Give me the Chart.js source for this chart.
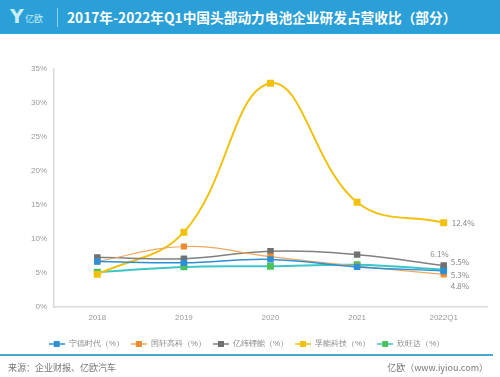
<!DOCTYPE html>
<html>
<head>
<meta charset="utf-8">
<script src="https://cdn.jsdelivr.net/npm/chart.js@4.4.0/dist/chart.umd.min.js"></script>
<style>
  body { margin: 0; width: 500px; height: 377px; background: #fff; position: relative; overflow: hidden; font-family: "Noto Sans CJK SC", sans-serif; }
  #header { position: absolute; left: 0; top: 0; width: 500px; height: 34px; background: #2a9fd8; }
  #logo { position: absolute; left: 10px; top: 5px; color: #c9eef7; font: bold 19px "DejaVu Sans", sans-serif; }
  #logo-text { position: absolute; left: 25px; top: 12px; color: #c9eef7; font-size: 9px; }
  #sep { position: absolute; left: 57px; top: 8px; width: 1px; height: 19px; background: #8fd0ee; }
  #title { position: absolute; left: 67px; top: 7px; color: #fff; font-size: 13.7px; font-weight: bold; white-space: nowrap; }
  #chart-box { position: absolute; left: 0; top: 40px; width: 493px; height: 318px; }
  #bottom-line { position: absolute; left: 0; top: 354px; width: 493px; height: 2px; background: #4aa8cf; }
  #source { position: absolute; left: 8px; top: 361px; font-size: 9px; color: #777; }
  #site { position: absolute; right: 12px; top: 361px; font-size: 9px; color: #777; }
</style>
</head>
<body>
<div id="header">
  <div id="logo">Y</div>
  <div id="logo-text">亿欧</div>
  <div id="sep"></div>
  <div id="title">2017年-2022年Q1中国头部动力电池企业研发占营收比（部分）</div>
</div>
<div id="chart-box"><canvas id="rd-chart"></canvas></div>
<div id="bottom-line"></div>
<div id="source">来源：企业财报、亿欧汽车</div>
<div id="site">亿欧（www.iyiou.com）</div>
<script>
// data
const years = ["2018", "2019", "2020", "2021", "2022Q1"];
const catl = [6.7, 6.5, 7.0, 5.9, 5.3];
const gotion = [6.7, 8.9, 7.4, 6.0, 4.8];
const eve = [7.3, 7.1, 8.2, 7.7, 6.1];
const farasis = [4.8, 11.0, 32.9, 15.4, 12.4];
const sunwoda = [5.1, 5.9, 6.0, 6.2, 5.5];
const yTicks = [0, 5, 10, 15, 20, 25, 30, 35];

// legend marker: short line with a square in the middle
function legendIcon(lineColor, markColor) {
  const c = document.createElement("canvas");
  c.width = 16;
  c.height = 8;
  const ctx = c.getContext("2d");
  ctx.strokeStyle = lineColor;
  ctx.lineWidth = 1.5;
  ctx.beginPath();
  ctx.moveTo(0, 4);
  ctx.lineTo(16, 4);
  ctx.stroke();
  ctx.fillStyle = markColor;
  ctx.fillRect(5, 1, 6, 6);
  return c;
}

function series(label, data, line, mark, width, lastLabel) {
  return {
    label: label,
    data: data,
    borderColor: line,
    backgroundColor: mark,
    pointBackgroundColor: mark,
    pointBorderColor: mark,
    pointStyle: "rect",
    pointRadius: 3.5,
    borderWidth: width,
    tension: 0.4,
    legendIcon: legendIcon(line, mark),
    lastLabel: lastLabel,
  };
}

// value label next to the last point
const lastLabels = {
  id: "lastLabels",
  afterDatasetsDraw(chart) {
    const ctx = chart.ctx;
    ctx.save();
    ctx.font = "8px 'Noto Sans CJK SC', sans-serif";
    ctx.fillStyle = "#888";
    ctx.textBaseline = "middle";
    chart.data.datasets.forEach((ds, i) => {
      const pts = chart.getDatasetMeta(i).data;
      const p = pts[pts.length - 1];
      const v = ds.data[ds.data.length - 1];
      const o = ds.lastLabel;
      ctx.textAlign = o.align;
      ctx.fillText(v.toFixed(1) + "%", p.x + o.dx, p.y + o.dy);
    });
    ctx.restore();
  },
};

const rdChart = new Chart(document.getElementById("rd-chart"), {
  type: "line",
  data: {
    labels: years,
    datasets: [
      series("宁德时代（%）", catl, "#2f8fd4", "#2f8fd4", 1.5, { dx: 7, dy: 4, align: "left" }),
      series("国轩高科（%）", gotion, "#f0a860", "#ee8a30", 1.2, { dx: 7, dy: 12, align: "left" }),
      series("亿纬锂能（%）", eve, "#808080", "#707070", 1.5, { dx: 5, dy: -12, align: "right" }),
      series("孚能科技（%）", farasis, "#f2c10c", "#f2c10c", 2, { dx: 8, dy: 0, align: "left" }),
      series("欣旺达（%）", sunwoda, "#3cc6c8", "#4cc35a", 2, { dx: 7, dy: -8, align: "left" }),
    ],
  },
  options: {
    responsive: true,
    maintainAspectRatio: false,
    animation: false,
    layout: { padding: { top: 29, right: 0, left: 0, bottom: 0 } },
    scales: {
      x: {
        offset: true,
        grid: { display: false, drawTicks: false },
        border: { display: true, color: "#d9d9d9", width: 1.5 },
        ticks: { color: "#999", font: { size: 8 }, padding: 6 },
        afterFit: (s) => { s.height = 26; },
      },
      y: {
        min: 0,
        max: 35,
        afterBuildTicks: (s) => { s.ticks = yTicks.map((v) => ({ value: v })); },
        grid: { display: false, drawTicks: false },
        border: { display: true, color: "#d9d9d9", width: 1.5 },
        ticks: { color: "#999", font: { size: 8 }, padding: 7, callback: (v) => v + "%" },
        afterFit: (s) => { s.width = 54; },
      },
    },
    plugins: {
      legend: {
        position: "bottom",
        labels: {
          color: "#888",
          font: { size: 8 },
          padding: 7,
          usePointStyle: true,
          pointStyleWidth: 16,
          generateLabels: (chart) =>
            chart.data.datasets.map((ds, i) => ({
              text: ds.label,
              pointStyle: ds.legendIcon,
              fontColor: "#888",
              datasetIndex: i,
              lineWidth: 0,
            })),
        },
      },
      tooltip: { enabled: false },
    },
  },
  plugins: [lastLabels],
});
</script>
</body>
</html>
